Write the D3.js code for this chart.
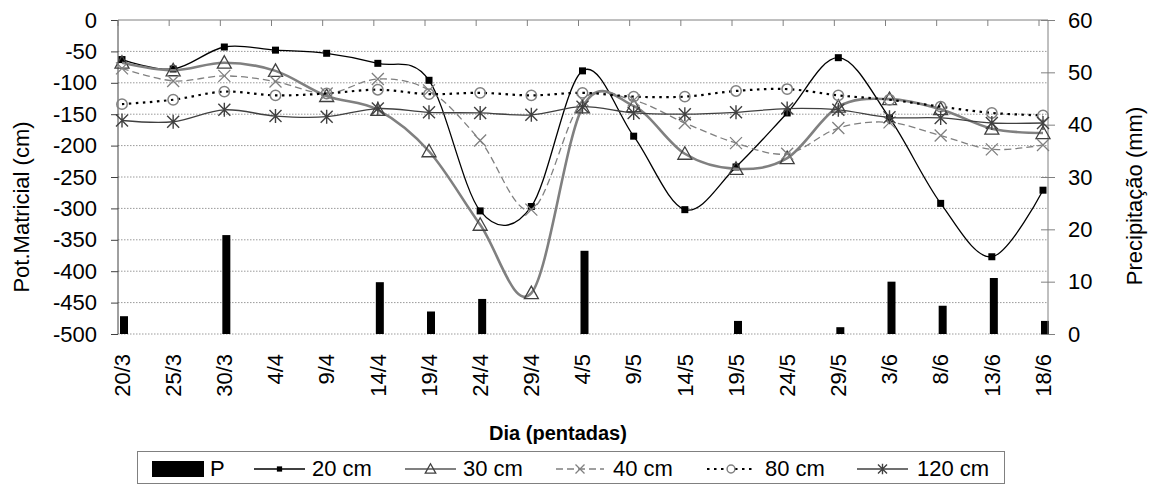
<!DOCTYPE html>
<html>
<head>
<meta charset="utf-8">
<script src="https://cdn.jsdelivr.net/npm/d3@7/dist/d3.min.js"></script>
<style>
  body { margin: 0; background: #fff; }
  svg { display: block; font-family: "Liberation Sans", Arial, sans-serif; }
</style>
</head>
<body>
<svg id="chart" width="1155" height="484"></svg>
<script>
// Pentad dates (day/month)
const days = ["20/3","25/3","30/3","4/4","9/4","14/4","19/4","24/4","29/4","4/5","9/5","14/5","19/5","24/5","29/5","3/6","8/6","13/6","18/6"];

// Precipitation per pentad (mm)
const precip = [3.4, 0, 18.9, 0, 0, 9.9, 4.3, 6.7, 0, 15.9, 0, 0, 2.5, 0, 1.3, 10, 5.4, 10.7, 2.5];

// Matric potential (cm) by depth
const pot20  = [-63, -78, -43, -48, -53, -69, -96, -304, -297, -81, -185, -302, -234, -148, -60, -156, -292, -377, -271];
const pot30  = [-68, -80, -68, -81, -121, -143, -209, -326, -435, -139, -137, -213, -237, -220, -138, -126, -142, -173, -180];
const pot40  = [-77, -97, -89, -98, -117, -94, -112, -192, -302, -128, -128, -164, -196, -213, -172, -163, -184, -206, -199];
const pot80  = [-134, -127, -114, -120, -117, -111, -118, -116, -120, -116, -122, -122, -113, -110, -120, -127, -138, -148, -152];
const pot120 = [-160, -162, -143, -153, -154, -141, -147, -148, -151, -138, -148, -150, -147, -141, -143, -155, -156, -164, -164];

// Axis ticks
const leftTicks = [0, -50, -100, -150, -200, -250, -300, -350, -400, -450, -500];
const rightTicks = [0, 10, 20, 30, 40, 50, 60];

const FONT = 22;
const svg = d3.select("#chart");
const plot = { left: 118, right: 1048, top: 20, bottom: 334 };

const x = d3.scalePoint().domain(days).range([plot.left + 4, plot.right - 5]);
const yL = d3.scaleLinear().domain([0, -500]).range([plot.top, plot.bottom]);
const yR = d3.scaleLinear().domain([0, 60]).range([plot.bottom, plot.top]);

// Horizontal dotted gridlines
svg.append("g").selectAll("line")
  .data(leftTicks.filter(d => d !== 0))
  .join("line")
  .attr("x1", plot.left).attr("x2", plot.right)
  .attr("y1", d => yL(d)).attr("y2", d => yL(d))
  .attr("stroke", "#9a9a9a").attr("stroke-width", 1)
  .attr("stroke-dasharray", "1.5,1.5");

// Precipitation bars
svg.append("g").selectAll("rect")
  .data(days.map((d, i) => ({ d, v: precip[i] })).filter(o => o.v > 0))
  .join("rect")
  .attr("x", o => x(o.d) - 2)
  .attr("width", 8)
  .attr("y", o => yR(o.v))
  .attr("height", o => yR(0) - yR(o.v))
  .attr("fill", "#000");

// Left axis
const leftAxis = d3.axisLeft(yL).tickValues(leftTicks).tickSize(7).tickPadding(14).tickFormat(d3.format("d"));
const gL = svg.append("g").attr("transform", `translate(${plot.left},0)`).call(leftAxis);
gL.select(".domain").attr("stroke", "#404040").attr("d", `M0,${plot.top}V${plot.bottom}`);
gL.selectAll(".tick line").attr("stroke", "#404040");
gL.selectAll(".tick text").attr("font-size", FONT).attr("fill", "#000")
  .attr("font-family", "Liberation Sans, Arial, sans-serif").text(d => String(d));

// Right axis (ticks cross the axis line)
const rightAxis = d3.axisRight(yR).tickValues(rightTicks).tickSize(7).tickPadding(13);
const gR = svg.append("g").attr("transform", `translate(${plot.right},0)`).call(rightAxis);
gR.select(".domain").attr("stroke", "#808080").attr("d", `M0,${plot.top}V${plot.bottom}`);
gR.selectAll(".tick line").attr("stroke", "#808080").attr("x1", -7);
gR.selectAll(".tick text").attr("font-size", FONT).attr("fill", "#000")
  .attr("font-family", "Liberation Sans, Arial, sans-serif");

// Category axis along the zero line at the top
const gX = svg.append("g");
gX.append("line")
  .attr("x1", plot.left).attr("x2", plot.right)
  .attr("y1", plot.top).attr("y2", plot.top)
  .attr("stroke", "#808080");
gX.selectAll("line.tk")
  .data(days)
  .join("line").attr("class", "tk")
  .attr("x1", d => x(d) - 4).attr("x2", d => x(d) - 4)
  .attr("y1", plot.top).attr("y2", plot.top + 6)
  .attr("stroke", "#808080");
gX.selectAll("text")
  .data(days)
  .join("text")
  .attr("transform", d => `translate(${x(d)},354) rotate(-90)`)
  .attr("text-anchor", "end")
  .attr("dy", "0.35em")
  .attr("font-size", FONT)
  .text(d => d);

// Axis titles
svg.append("text")
  .attr("transform", "translate(21,207) rotate(-90)")
  .attr("text-anchor", "middle").attr("dy", "0.35em")
  .attr("font-size", FONT).text("Pot.Matricial (cm)");
svg.append("text")
  .attr("transform", "translate(1134,196) rotate(-90)")
  .attr("text-anchor", "middle").attr("dy", "0.35em")
  .attr("font-size", FONT).text("Precipitação (mm)");
svg.append("text")
  .attr("x", 558).attr("y", 440)
  .attr("text-anchor", "middle")
  .attr("font-size", 20).attr("font-weight", "bold").text("Dia (pentadas)");

// Marker shapes (k scales the glyph)
function drawMarker(g, type, cx, cy, k = 1) {
  if (type === "square") {
    const h = 3.5 * k;
    g.append("rect").attr("x", cx - h).attr("y", cy - h).attr("width", 2 * h).attr("height", 2 * h).attr("fill", "#000");
  } else if (type === "triangle") {
    g.append("path").attr("d", `M${cx},${cy - 7 * k}L${cx + 7 * k},${cy + 5.5 * k}L${cx - 7 * k},${cy + 5.5 * k}Z`)
      .attr("fill", "none").attr("stroke", "#404040").attr("stroke-width", 1.3);
  } else if (type === "cross") {
    const h = 6 * k;
    g.append("path").attr("d", `M${cx - h},${cy - h}L${cx + h},${cy + h}M${cx - h},${cy + h}L${cx + h},${cy - h}`)
      .attr("stroke", "#808080").attr("stroke-width", 1.3);
  } else if (type === "circle") {
    g.append("circle").attr("cx", cx).attr("cy", cy).attr("r", 5.2 * k)
      .attr("fill", k < 1 ? "#fff" : "none").attr("stroke", "#808080").attr("stroke-width", 1.5);
  } else if (type === "star") {
    const h = 6 * k, v = 7 * k;
    g.append("path").attr("d", `M${cx - h},${cy - h}L${cx + h},${cy + h}M${cx - h},${cy + h}L${cx + h},${cy - h}M${cx},${cy - v}L${cx},${cy + v}`)
      .attr("stroke", "#404040").attr("stroke-width", 1.4);
  }
}

const series = [
  { name: "20 cm",  values: pot20,  color: "#000",    width: 1.3, dash: null,      marker: "square" },
  { name: "30 cm",  values: pot30,  color: "#808080", width: 2.6, dash: null,      marker: "triangle" },
  { name: "40 cm",  values: pot40,  color: "#808080", width: 1.3, dash: "7,4",     marker: "cross" },
  { name: "80 cm",  values: pot80,  color: "#000",    width: 2.2, dash: "2.5,4.5", marker: "circle" },
  { name: "120 cm", values: pot120, color: "#404040", width: 1.3, dash: null,      marker: "star" }
];

const line = d3.line()
  .x((v, i) => x(days[i]))
  .y(v => yL(v))
  .curve(d3.curveCardinal.tension(0));

series.forEach(s => {
  const g = svg.append("g");
  g.append("path")
    .attr("d", line(s.values))
    .attr("fill", "none")
    .attr("stroke", s.color)
    .attr("stroke-width", s.width)
    .attr("stroke-dasharray", s.dash);
  s.values.forEach((v, i) => drawMarker(g, s.marker, x(days[i]), yL(v)));
});

// Legend
const lg = svg.append("g");
lg.append("rect").attr("x", 137.5).attr("y", 451.5).attr("width", 867).attr("height", 32)
  .attr("fill", "#fff").attr("stroke", "#808080");
const legendY = 469;
lg.append("rect").attr("x", 152).attr("y", 461).attr("width", 52).attr("height", 16).attr("fill", "#000");
lg.append("text").attr("x", 210).attr("y", 476).attr("font-size", FONT).text("P");

const legendPos = [
  { x1: 254, x2: 305, tx: 312 },
  { x1: 405, x2: 456, tx: 463 },
  { x1: 556, x2: 604, tx: 613 },
  { x1: 707, x2: 755, tx: 765 },
  { x1: 857, x2: 908, tx: 917 }
];
series.forEach((s, i) => {
  const p = legendPos[i];
  const g = lg.append("g");
  g.append("line").attr("x1", p.x1).attr("x2", p.x2).attr("y1", legendY).attr("y2", legendY)
    .attr("stroke", s.color).attr("stroke-width", Math.min(s.width, 2)).attr("stroke-dasharray", s.dash);
  drawMarker(g, s.marker, (p.x1 + p.x2) / 2, legendY, 0.75);
  g.append("text").attr("x", p.tx).attr("y", 476).attr("font-size", FONT).text(s.name);
});
</script>
</body>
</html>
